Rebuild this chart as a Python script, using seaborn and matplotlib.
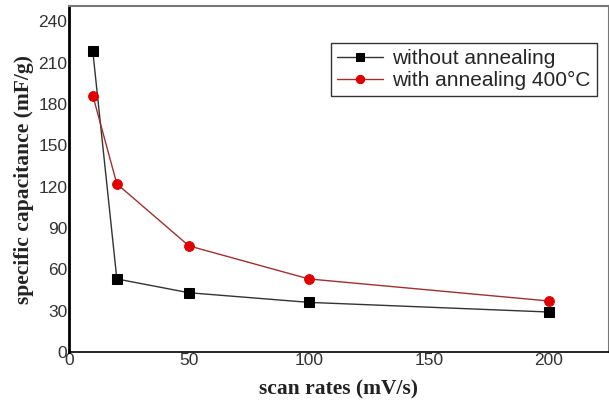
import matplotlib
matplotlib.use("Agg")
import matplotlib.pyplot as plt
import seaborn as sns
import pandas as pd

scan_rates = [10, 20, 50, 100, 200]
without_annealing = [218, 53, 43, 36, 29]
with_annealing = [186, 122, 77, 53, 37]
labels = ["without annealing", "with annealing 400°C"]

sns.set_theme(style="white")
plt.rcParams['font.family'] = ['Liberation Sans', 'DejaVu Sans']

fig = plt.figure(figsize=(6.09, 4.0), dpi=100)
ax = fig.add_axes([0.113, 0.12, 0.887, 0.865])

df1 = pd.DataFrame({"x": scan_rates, "y": without_annealing})
df2 = pd.DataFrame({"x": scan_rates, "y": with_annealing})

sns.lineplot(data=df1, x="x", y="y", ax=ax, color="#333333", linewidth=1.0,
             marker="s", markersize=7, markerfacecolor="black",
             markeredgecolor="black", label=labels[0])
sns.lineplot(data=df2, x="x", y="y", ax=ax, color="#a03030", linewidth=1.0,
             marker="o", markersize=7, markerfacecolor="#e00000",
             markeredgecolor="#e00000", label=labels[1])

ax.set_xlim(0, 225)
ax.set_ylim(0, 251)
ax.set_xticks([0, 50, 100, 150, 200])
ax.set_yticks(list(range(0, 241, 30)))
ax.tick_params(axis="both", length=0, labelsize=12.5, colors="#333333", pad=1)

for s in ["top", "right"]:
    ax.spines[s].set_color("#777777")
    ax.spines[s].set_linewidth(1.5)
ax.spines["left"].set_color("black")
ax.spines["left"].set_linewidth(2)
ax.spines["bottom"].set_color("black")
ax.spines["bottom"].set_linewidth(1.2)

ax.set_xlabel("scan rates (mV/s)", family="Liberation Serif", fontweight="bold",
              fontsize=15.5, labelpad=8, color="#222222")
ax.set_ylabel("specific capacitance (mF/g)", family="Liberation Serif",
              fontweight="bold", fontsize=15.5, labelpad=3, color="#222222")

leg = ax.legend(loc="upper right", bbox_to_anchor=(0.978, 0.893), fontsize=15,
                frameon=True, fancybox=False, edgecolor="black",
                handlelength=2.2, borderpad=0.3, labelspacing=0.12,
                handletextpad=0.45, borderaxespad=0.0)
leg.get_frame().set_linewidth(1.0)
for h in leg.legend_handles:
    h.set_markersize(6)

fig.savefig("out.png", dpi=100)
